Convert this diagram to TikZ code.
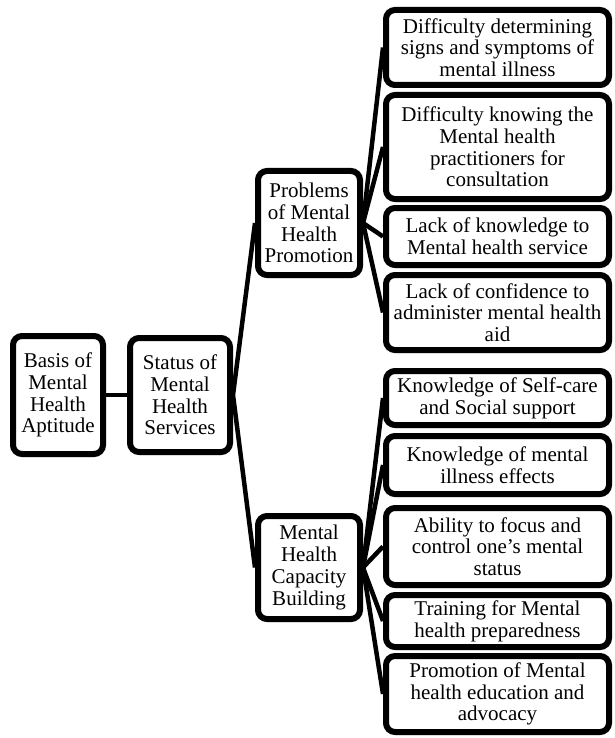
\documentclass[tikz,border=0pt]{standalone}
\usepackage{fontspec}
\setmainfont{Liberation Serif}
\usetikzlibrary{shadows,backgrounds}
\begin{document}
\begin{tikzpicture}[x=1pt,y=-1pt,
  box/.style={draw=black, line width=6pt, rounded corners=9pt, fill=white,
    align=center, inner sep=1pt, font=\fontsize{21}{21.7}\selectfont,
    drop shadow={shadow xshift=1pt, shadow yshift=-3pt, opacity=0.25, fill=black!60}},
  leaf/.style={box, minimum width=223pt},
  link/.style={line width=4.5pt}]
\useasboundingbox (0,0) rectangle (614,738);
% first level
\node[box, minimum width=90pt, minimum height=118pt] (ba) at (58,395) {Basis of\\Mental\\Health\\Aptitude};
\node[box, minimum width=100pt, minimum height=114pt] (st) at (180,395) {Status of\\Mental\\Health\\Services};
\node[box, minimum width=102pt, minimum height=104pt] (pr) at (309,223) {Problems\\of Mental\\Health\\Promotion};
\node[box, minimum width=102pt, minimum height=103pt] (ca) at (309,567.5) {Mental\\Health\\Capacity\\Building};
% leaves
\node[leaf, minimum height=75pt] (b1) at (497.5,47.5) {Difficulty determining\\signs and symptoms of\\mental illness};
\node[leaf, minimum height=104pt] (b2) at (497.5,147) {Difficulty knowing the\\Mental health\\practitioners for\\consultation};
\node[leaf, minimum height=57pt] (b3) at (497.5,236.5) {Lack of knowledge to\\Mental health service};
\node[leaf, minimum height=75pt] (b4) at (497.5,312.5) {Lack of confidence to\\administer mental health\\aid};
\node[leaf, minimum height=54pt] (b5) at (497.5,398) {Knowledge of Self-care\\and Social support};
\node[leaf, minimum height=58pt] (b6) at (497.5,465) {Knowledge of mental\\illness effects};
\node[leaf, minimum height=77pt] (b7) at (497.5,546.5) {Ability to focus and\\control one’s mental\\status};
\node[leaf, minimum height=52pt] (b8) at (497.5,621) {Training for Mental\\health preparedness};
\node[leaf, minimum height=76pt] (b9) at (497.5,694) {Promotion of Mental\\health education and\\advocacy};
\begin{pgfonlayer}{background}
\draw[link] (ba.east) -- (st.west);
\draw[link] (st.east) -- (pr.west);
\draw[link] (st.east) -- (ca.west);
\foreach \b in {b1,b2,b3,b4} \draw[link] (pr.east) -- (\b.west);
\foreach \b in {b5,b6,b7,b8,b9} \draw[link] (ca.east) -- (\b.west);
\end{pgfonlayer}
\end{tikzpicture}
\end{document}
